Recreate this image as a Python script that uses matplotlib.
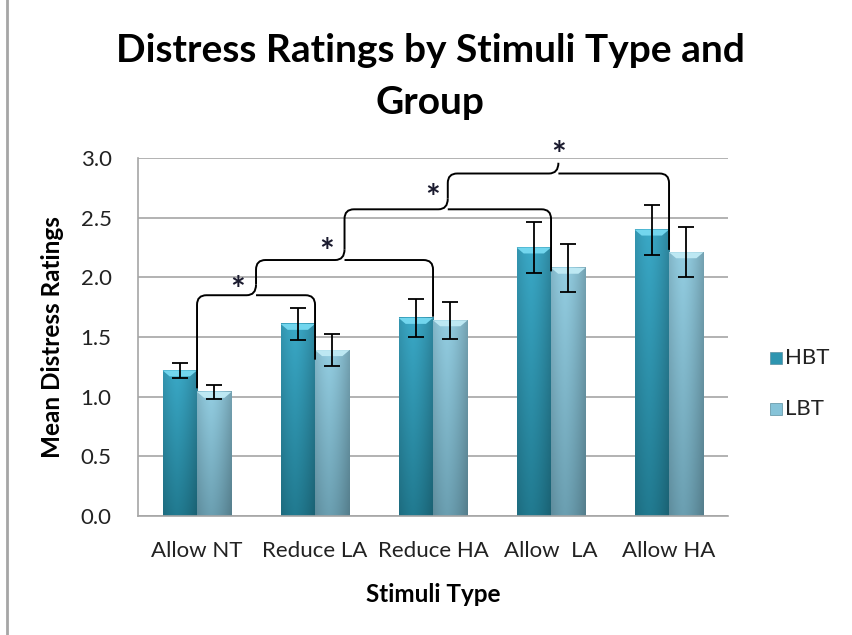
import matplotlib
matplotlib.use('Agg')
import matplotlib.pyplot as plt
import numpy as np
from matplotlib.path import Path
from matplotlib.patches import PathPatch, Polygon, Rectangle
from matplotlib.lines import Line2D
from matplotlib.colors import to_rgb

plt.rcParams['font.family'] = ['Lato', 'DejaVu Sans']

# data
stimuli = ['Allow NT', 'Reduce LA', 'Reduce HA', 'Allow  LA', 'Allow HA']
hbt = [1.22, 1.61, 1.66, 2.25, 2.40]
hbt_err = [0.06, 0.135, 0.16, 0.21, 0.21]
lbt = [1.04, 1.39, 1.64, 2.08, 2.21]
lbt_err = [0.06, 0.135, 0.155, 0.20, 0.21]
groups = ['HBT', 'LBT']

fig = plt.figure(figsize=(8.52, 6.35), dpi=100)
ax = fig.add_axes([0.162, 0.1874, 0.6925, 0.5638])

x = np.arange(len(stimuli))
w = 0.292


def shaded_bar(ax, xc, h, top_col, bot_col, bevel_col):
    # gradient fill: lighter on top, darker at the bottom and at the edges
    l, r = xc - w / 2, xc + w / 2
    t = np.linspace(0, 1, 60)[:, None]
    s = np.linspace(0, 1, 30)[None, :]
    c_top = np.array(to_rgb(top_col))
    c_bot = np.array(to_rgb(bot_col))
    base = c_top[None, None, :] * (1 - t[..., None]) + c_bot[None, None, :] * t[..., None]
    edge = 1 - 0.18 * np.abs(s - 0.4) ** 1.5 * 2.5
    img = np.clip(base * edge[..., None], 0, 1)
    ax.imshow(img, extent=[l, r, 0, h], aspect='auto', origin='upper', zorder=2, interpolation='bilinear')
    bh = 0.05
    bd = 0.06
    ax.add_patch(Polygon([(l, h), (r, h), (r - bd, h - bh), (l + bd, h - bh)],
                         closed=True, facecolor=bevel_col, edgecolor='none', zorder=2.5))


for i in x:
    shaded_bar(ax, i - w / 2, hbt[i], '#3AA8C6', '#217A90', '#72D6EE')
    shaded_bar(ax, i + w / 2, lbt[i], '#93CDE1', '#6B9FB1', '#BDE8F3')

ax.errorbar(x - w / 2, hbt, yerr=hbt_err, fmt='none', ecolor='black', elinewidth=1.3, capsize=5.5, capthick=1.3, zorder=4)
ax.errorbar(x + w / 2, lbt, yerr=lbt_err, fmt='none', ecolor='black', elinewidth=1.3, capsize=5.5, capthick=1.3, zorder=4)


def brace(ax, xl, yl, xr, yr, yh, tip=0.09, rad=0.08):
    xm = (xl + xr) / 2
    verts = [(xl, yl), (xl, yh - rad), (xl, yh), (xl + rad, yh),
             (xm - rad, yh), (xm, yh), (xm, yh + tip),
             (xm, yh), (xm + rad, yh),
             (xr - rad, yh), (xr, yh), (xr, yh - rad), (xr, yr)]
    codes = [Path.MOVETO, Path.LINETO, Path.CURVE3, Path.CURVE3,
             Path.LINETO, Path.CURVE3, Path.CURVE3,
             Path.MOVETO, Path.CURVE3,
             Path.LINETO, Path.CURVE3, Path.CURVE3, Path.LINETO]
    ax.add_patch(PathPatch(Path(verts, codes), facecolor='none', edgecolor='black', lw=1.4, zorder=5, clip_on=False))
    return xm, yh + tip


# significance braces
m1 = brace(ax, 0, 1.07, 1, 1.31, 1.85)
m2 = brace(ax, m1[0], m1[1], 2, 1.67, 2.145)
m3 = brace(ax, m2[0], m2[1], 3, 2.05, 2.57)
m4 = brace(ax, m3[0], m3[1], 4, 2.23, 2.87)
for (mx, my), dx, dy in zip([m1, m2, m3, m4], [-0.16, -0.15, -0.13, 0.0], [0.04, 0.065, 0.09, 0.15]):
    ax.annotate('*', (mx + dx, my + dy), xytext=(0, -11), textcoords='offset pixels',
                ha='center', va='center', fontsize=25, fontweight='bold', color='#1A1A2E',
                annotation_clip=False, zorder=6)

ax.set_xlim(-0.5, 4.5)
ax.set_ylim(0, 3.0)
ax.set_yticks(np.arange(0, 3.01, 0.5))
ax.set_yticklabels([f'{v:.1f}' for v in np.arange(0, 3.01, 0.5)])
ax.set_xticks(x)
ax.set_xticklabels(stimuli)
ax.tick_params(length=0, labelsize=16, colors='#222222')
ax.tick_params(axis='y', pad=19)
ax.tick_params(axis='x', pad=18)
ax.yaxis.grid(True, color='#A6A6A6', lw=1.2)
ax.set_axisbelow(True)
for sp in ['top', 'right']:
    ax.spines[sp].set_visible(False)
for sp in ['left', 'bottom']:
    ax.spines[sp].set_color('#A6A6A6')
    ax.spines[sp].set_linewidth(1.2)

ax.set_ylabel('Mean Distress Ratings', fontsize=17.5, fontweight='bold', labelpad=12)
ax.set_xlabel('Stimuli Type', fontsize=17.5, fontweight='bold', labelpad=16)

fig.text(0.505, 0.921, 'Distress Ratings by Stimuli Type and', ha='center', va='center',
         fontsize=28, fontweight='bold')
fig.text(0.505, 0.839, 'Group', ha='center', va='center', fontsize=28, fontweight='bold')

# legend
cols = ['#2E95B0', '#86C3D8']
for k, (g, c) in enumerate(zip(groups, cols)):
    yy = 1 - (358 + 51 * k) / 635
    fig.patches.append(Rectangle((770 / 852, yy - 6 / 635), 12 / 852, 12 / 635, transform=fig.transFigure,
                                 facecolor=c, edgecolor='#5A8FA0', lw=0.5))
    fig.text(785 / 852, yy, g, ha='left', va='center', fontsize=16, color='#222222')

# chart border (left edge only visible)
fig.add_artist(Line2D([7 / 852, 7 / 852], [0, 1], transform=fig.transFigure, color='#A6A6A6', lw=2))

fig.savefig('out.png', dpi=100)
